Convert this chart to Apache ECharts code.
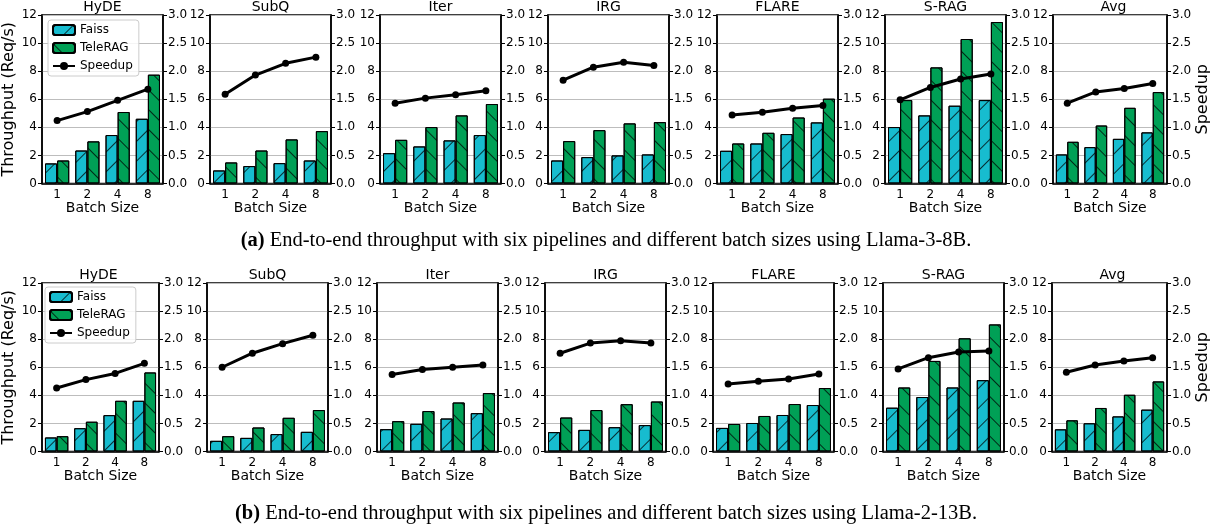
<!DOCTYPE html>
<html>
<head>
<meta charset="utf-8">
<script src="https://cdn.jsdelivr.net/npm/echarts@6/dist/echarts.min.js"></script>
<style>
html,body{margin:0;padding:0;background:#fff;}
#main{width:1212px;height:527px;}
</style>
</head>
<body>
<div id="main"></div>
<script>
// data
var batchSizes = ['1', '2', '4', '8'];
var pipelines = ['HyDE', 'SubQ', 'Iter', 'IRG', 'FLARE', 'S-RAG', 'Avg'];

// (a) Llama-3-8B
var faissA = [
  [1.43, 2.35, 3.45, 4.61],
  [0.93, 1.24, 1.45, 1.64],
  [2.16, 2.64, 3.07, 3.45],
  [1.64, 1.88, 2.00, 2.07],
  [2.33, 2.85, 3.52, 4.35],
  [4.02, 4.85, 5.54, 5.94],
  [2.07, 2.59, 3.18, 3.64]
];
var teleragA = [
  [1.64, 3.00, 5.09, 7.75],
  [1.50, 2.35, 3.14, 3.73],
  [3.11, 4.02, 4.85, 5.66],
  [3.02, 3.80, 4.28, 4.37],
  [2.85, 3.61, 4.70, 6.04],
  [5.94, 8.27, 10.29, 11.50],
  [2.97, 4.13, 5.39, 6.51]
];
var speedupA = [
  [1.12, 1.28, 1.48, 1.68],
  [1.59, 1.93, 2.14, 2.25],
  [1.43, 1.52, 1.58, 1.65],
  [1.84, 2.07, 2.16, 2.10],
  [1.22, 1.27, 1.34, 1.39],
  [1.49, 1.71, 1.86, 1.95],
  [1.43, 1.63, 1.69, 1.78]
];

// (b) Llama-2-13B
var faissB = [
  [1.00, 1.66, 2.59, 3.61],
  [0.76, 0.97, 1.24, 1.40],
  [1.59, 1.97, 2.35, 2.73],
  [1.38, 1.54, 1.73, 1.88],
  [1.68, 2.03, 2.60, 3.31],
  [3.12, 3.88, 4.56, 5.08],
  [1.58, 2.01, 2.50, 2.98]
];
var teleragB = [
  [1.09, 2.12, 3.61, 5.63],
  [1.09, 1.71, 2.40, 2.95],
  [2.16, 2.88, 3.49, 4.16],
  [2.42, 2.95, 3.37, 3.56],
  [1.96, 2.53, 3.38, 4.52],
  [4.56, 6.45, 8.06, 9.05],
  [2.22, 3.10, 4.04, 4.99]
];
var speedupB = [
  [1.13, 1.28, 1.39, 1.57],
  [1.50, 1.75, 1.92, 2.07],
  [1.37, 1.46, 1.50, 1.54],
  [1.75, 1.93, 1.97, 1.93],
  [1.20, 1.25, 1.29, 1.38],
  [1.47, 1.67, 1.77, 1.79],
  [1.41, 1.54, 1.61, 1.67]
];

var FONT = 'DejaVu Sans';
var myChart = echarts.init(document.getElementById('main'));

var rows = [
  {lefts: [42, 210, 380, 548, 717, 885, 1053], top: 15, faiss: faissA, tele: teleragA, speed: speedupA},
  {lefts: [38, 207, 377, 545, 713, 883, 1052], top: 283, faiss: faissB, tele: teleragB, speed: speedupB}
];
var W = 121, H = 168.5;

var grid = [], xAxis = [], yAxis = [], series = [], graphic = [];

rows.forEach(function (row, r) {
  for (var i = 0; i < pipelines.length; i++) {
    var gi = grid.length;
    grid.push({left: row.lefts[i], top: row.top, width: W, height: H,
      show: true, borderColor: '#000', borderWidth: 1.5, backgroundColor: '#fff'});
    xAxis.push({
      type: 'category', gridIndex: gi, data: batchSizes,
      name: 'Batch Size', nameLocation: 'middle', nameGap: 17,
      nameTextStyle: {fontFamily: FONT, fontSize: 14, color: '#000'},
      axisLine: {lineStyle: {color: '#000', width: 1.5}},
      axisTick: {alignWithLabel: true, length: 4, lineStyle: {color: '#000'}},
      axisLabel: {fontFamily: FONT, fontSize: 12, color: '#000', margin: 5}
    });
    yAxis.push({
      type: 'value', gridIndex: gi, min: 0, max: 12, interval: 2, position: 'left',
      name: i === 0 ? 'Throughput (Req/s)' : '', nameLocation: 'middle', nameGap: 25, nameRotate: 90,
      nameTextStyle: {fontFamily: FONT, fontSize: 16, color: '#000'},
      axisLine: {show: true, lineStyle: {color: '#000', width: 1.5}},
      axisTick: {show: true, length: 4, lineStyle: {color: '#000'}},
      axisLabel: {fontFamily: FONT, fontSize: 12, color: '#000', margin: 5},
      splitLine: {show: true, lineStyle: {color: '#bdbdbd', width: 1}}
    });
    yAxis.push({
      type: 'value', gridIndex: gi, min: 0, max: 3, interval: 0.5, position: 'right',
      name: i === pipelines.length - 1 ? 'Speedup' : '', nameLocation: 'middle', nameGap: 27, nameRotate: 90,
      nameTextStyle: {fontFamily: FONT, fontSize: 16, color: '#000'},
      axisLine: {show: true, lineStyle: {color: '#000', width: 1.5}},
      axisTick: {show: true, length: 4, lineStyle: {color: '#000'}},
      axisLabel: {fontFamily: FONT, fontSize: 12, color: '#000', margin: 5,
        formatter: function (v) { return v.toFixed(1); }},
      splitLine: {show: false}
    });
    series.push({
      name: 'Faiss', type: 'bar', xAxisIndex: gi, yAxisIndex: gi * 2,
      data: row.faiss[i], barGap: '0%', barCategoryGap: '20%',
      itemStyle: {color: '#17bccf', borderColor: '#000', borderWidth: 1,
        decal: {symbol: 'rect', symbolSize: 1, dashArrayX: [1, 0], dashArrayY: [1, 13],
          rotation: -Math.PI / 4, color: 'rgba(0,0,0,0.75)'}}
    });
    series.push({
      name: 'TeleRAG', type: 'bar', xAxisIndex: gi, yAxisIndex: gi * 2,
      data: row.tele[i], barGap: '0%', barCategoryGap: '20%',
      itemStyle: {color: '#00a056', borderColor: '#000', borderWidth: 1,
        decal: {symbol: 'rect', symbolSize: 1, dashArrayX: [1, 0], dashArrayY: [1, 13],
          rotation: Math.PI / 4, color: 'rgba(0,0,0,0.75)'}}
    });
    series.push({
      name: 'Speedup', type: 'line', xAxisIndex: gi, yAxisIndex: gi * 2 + 1,
      data: row.speed[i], symbol: 'circle', symbolSize: 7, z: 5,
      lineStyle: {color: '#000', width: 3}, itemStyle: {color: '#000'}
    });
    // subplot title, centred over its grid
    graphic.push({
      type: 'text', x: row.lefts[i] + W / 2, y: row.top - 15,
      style: {text: pipelines[i], align: 'center', verticalAlign: 'top',
        font: '14px "DejaVu Sans"', fill: '#000'}
    });
  }
});

var legendBase = {
  orient: 'vertical', data: ['Faiss', 'TeleRAG', 'Speedup'],
  itemWidth: 22, itemHeight: 10, itemGap: 6, padding: [4, 6, 4, 4],
  borderColor: '#ccc', borderWidth: 1, borderRadius: 3, backgroundColor: 'rgba(255,255,255,0.85)',
  textStyle: {fontFamily: FONT, fontSize: 12, color: '#000'}, selectedMode: false
};

var capStyle = {fontFamily: 'Liberation Serif', fontSize: 20.5, fontWeight: 'normal', color: '#000',
  rich: {b: {fontFamily: 'Liberation Serif', fontSize: 20.5, fontWeight: 'bold', color: '#000'}}};

option = {
  animation: false,
  title: [
    {text: '{b|(a)} End-to-end throughput with six pipelines and different batch sizes using Llama-3-8B.',
      left: 'center', top: 230, padding: 0, textStyle: capStyle},
    {text: '{b|(b)} End-to-end throughput with six pipelines and different batch sizes using Llama-2-13B.',
      left: 'center', top: 503, padding: 0, textStyle: capStyle}
  ],
  legend: [
    Object.assign({left: 48, top: 20}, legendBase),
    Object.assign({left: 45, top: 287}, legendBase)
  ],
  grid: grid,
  xAxis: xAxis,
  yAxis: yAxis,
  series: series,
  graphic: graphic
};
myChart.setOption(option);
</script>
</body>
</html>
